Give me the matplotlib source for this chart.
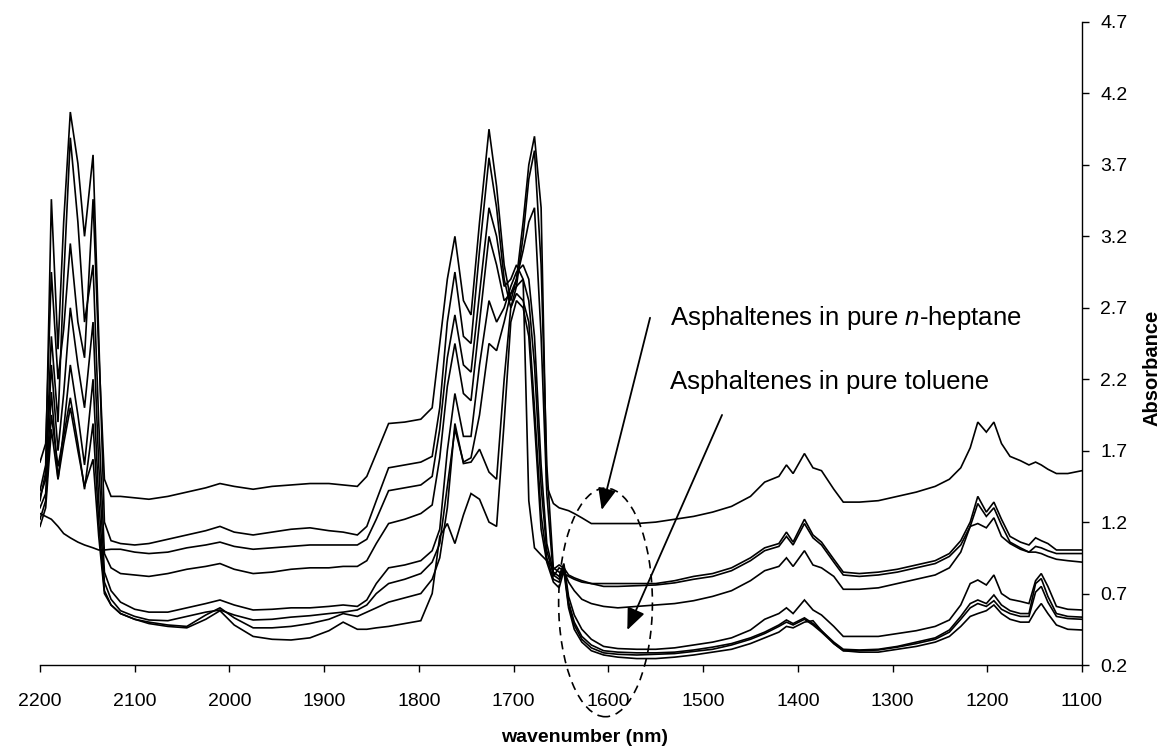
import matplotlib
matplotlib.use("Agg")
import matplotlib.pyplot as plt
from matplotlib.patches import Ellipse

plt.rcParams['font.family'] = ['Liberation Sans', 'DejaVu Sans']
plt.rcParams['mathtext.fontset'] = 'custom'
plt.rcParams['mathtext.rm'] = 'Liberation Sans'
plt.rcParams['mathtext.it'] = 'Liberation Sans:italic'
plt.rcParams['mathtext.bf'] = 'Liberation Sans:bold'

# Shared wavenumber grid (nm) for all spectra
wavenumber = [
    2200, 2194, 2188, 2181, 2175, 2168, 2160, 2153, 2144, 2138,
    2132, 2125, 2115, 2100, 2085, 2065, 2045, 2025, 2010, 1995,
    1975, 1955, 1935, 1915, 1895, 1880, 1865, 1855, 1845, 1832,
    1815, 1798, 1786, 1778, 1770, 1762, 1753, 1745, 1736, 1726,
    1718, 1710, 1703, 1697, 1690, 1684, 1678, 1671, 1665, 1658,
    1652, 1647, 1642, 1636, 1628, 1618, 1605, 1590, 1570, 1550,
    1530, 1510, 1490, 1470, 1450, 1435, 1420, 1412, 1405, 1393,
    1384, 1375, 1362, 1352, 1335, 1315, 1295, 1275, 1255, 1240,
    1228, 1218, 1210, 1201, 1193, 1185, 1176, 1165, 1156, 1149,
    1143, 1136, 1127, 1115, 1100,
]

abs_top = [
    1.62, 1.75, 2.95, 2.20, 2.55, 3.15, 2.60, 2.35, 3.46, 2.40,
    1.50, 1.38, 1.38, 1.37, 1.36, 1.38, 1.41, 1.44, 1.47, 1.45,
    1.43, 1.45, 1.46, 1.47, 1.47, 1.46, 1.45, 1.52, 1.68, 1.89,
    1.90, 1.92, 2.00, 2.45, 2.90, 3.20, 2.75, 2.65, 3.30, 3.95,
    3.55, 3.00, 2.75, 2.90, 3.30, 3.70, 3.90, 3.40, 1.45, 1.33,
    1.30, 1.29, 1.28, 1.26, 1.23, 1.19, 1.19, 1.19, 1.19, 1.20,
    1.22, 1.24, 1.27, 1.31, 1.38, 1.48, 1.52, 1.60, 1.54, 1.68,
    1.58, 1.56, 1.43, 1.34, 1.34, 1.35, 1.38, 1.41, 1.45, 1.50,
    1.58, 1.72, 1.90, 1.83, 1.90, 1.75, 1.66, 1.63, 1.60, 1.62,
    1.60, 1.57, 1.54, 1.54, 1.56,
]

abs_mid1 = [
    1.42, 1.60, 3.46, 2.41, 3.30, 4.07, 3.71, 3.20, 3.77, 2.50,
    1.20, 1.07, 1.05, 1.04, 1.05, 1.08, 1.11, 1.14, 1.17, 1.13,
    1.11, 1.13, 1.15, 1.16, 1.14, 1.13, 1.11, 1.17, 1.35, 1.58,
    1.60, 1.62, 1.66, 2.00, 2.60, 2.95, 2.50, 2.45, 3.10, 3.75,
    3.40, 2.90, 2.70, 2.85, 3.20, 3.60, 3.80, 3.00, 1.60, 0.87,
    0.90, 0.88, 0.83, 0.81, 0.79, 0.77, 0.77, 0.77, 0.77, 0.77,
    0.79, 0.82, 0.84, 0.88, 0.95, 1.02, 1.05, 1.13, 1.06, 1.22,
    1.11, 1.06, 0.94, 0.85, 0.84, 0.85, 0.87, 0.90, 0.93, 0.98,
    1.07, 1.20, 1.38, 1.27, 1.34, 1.22, 1.10, 1.06, 1.04, 1.09,
    1.07, 1.05, 1.005, 1.005, 1.005,
]

abs_mid2 = [
    1.26, 1.24, 1.22, 1.17, 1.12, 1.09, 1.06, 1.04, 1.02, 1.005,
    1.005, 1.01, 1.01, 0.99, 0.98, 0.99, 1.02, 1.04, 1.06, 1.03,
    1.01, 1.02, 1.03, 1.04, 1.04, 1.04, 1.04, 1.08, 1.22, 1.42,
    1.44, 1.46, 1.52, 1.85, 2.35, 2.65, 2.30, 2.25, 2.80, 3.40,
    3.20, 2.85, 2.90, 3.00, 2.90, 1.35, 1.02, 0.97, 0.93, 0.88,
    0.85, 0.84, 0.82, 0.80, 0.78, 0.77, 0.75, 0.75, 0.755, 0.76,
    0.775, 0.80, 0.82, 0.86, 0.93, 1.00, 1.03, 1.10, 1.04, 1.19,
    1.09, 1.04, 0.92, 0.83, 0.82, 0.83, 0.85, 0.88, 0.91, 0.96,
    1.04, 1.17, 1.33, 1.24, 1.30, 1.18, 1.06, 1.02, 0.99, 1.03,
    1.02, 1.00, 0.98, 0.98, 0.98,
]

abs_mid3 = [
    1.35, 1.55, 2.50, 1.90, 2.90, 3.89, 3.30, 2.60, 3.00, 1.90,
    0.98, 0.88, 0.84, 0.83, 0.82, 0.84, 0.87, 0.89, 0.91, 0.87,
    0.84, 0.85, 0.87, 0.88, 0.88, 0.89, 0.89, 0.93, 1.05, 1.19,
    1.22, 1.26, 1.32, 1.65, 2.15, 2.45, 2.10, 2.05, 2.60, 3.20,
    3.00, 2.75, 2.80, 2.90, 3.10, 3.30, 3.40, 2.50, 1.40, 0.82,
    0.88, 0.86, 0.78, 0.72, 0.66, 0.63, 0.61, 0.60, 0.61, 0.62,
    0.63, 0.65, 0.68, 0.72, 0.79, 0.86, 0.89, 0.95, 0.89, 1.00,
    0.90, 0.88, 0.82, 0.73, 0.73, 0.74, 0.77, 0.80, 0.83, 0.88,
    0.99, 1.17, 1.19, 1.16, 1.23, 1.10, 1.05, 1.01, 0.99, 0.99,
    0.98, 0.96, 0.94, 0.93, 0.92,
]

abs_low1 = [
    1.38, 1.50, 2.30, 1.70, 2.10, 2.70, 2.30, 2.00, 2.60, 1.60,
    0.85, 0.72, 0.64, 0.59, 0.57, 0.57, 0.60, 0.63, 0.655, 0.62,
    0.585, 0.59, 0.60, 0.60, 0.61, 0.62, 0.61, 0.655, 0.77, 0.88,
    0.90, 0.93, 1.00, 1.15, 1.70, 2.10, 1.80, 1.80, 2.30, 2.75,
    2.60, 2.70, 2.85, 2.95, 3.00, 2.90, 2.50, 1.60, 1.05, 0.85,
    0.82, 0.91, 0.68, 0.55, 0.45, 0.38, 0.33, 0.315, 0.31, 0.31,
    0.32, 0.34, 0.36, 0.39, 0.445, 0.52, 0.56, 0.60, 0.56, 0.655,
    0.585, 0.55, 0.47, 0.40, 0.40, 0.40, 0.42, 0.44, 0.47, 0.515,
    0.62, 0.77, 0.795, 0.76, 0.83, 0.70, 0.66, 0.645, 0.63, 0.79,
    0.84, 0.75, 0.61, 0.59, 0.585,
]

abs_low2 = [
    1.30, 1.40, 2.11, 1.50, 1.85, 2.30, 1.95, 1.60, 2.20, 1.35,
    0.78, 0.66, 0.58, 0.54, 0.515, 0.51, 0.54, 0.57, 0.585, 0.55,
    0.515, 0.52, 0.535, 0.545, 0.56, 0.57, 0.585, 0.62, 0.70, 0.77,
    0.80, 0.84, 0.92, 1.05, 1.45, 1.85, 1.62, 1.65, 1.95, 2.45,
    2.40, 2.60, 2.80, 2.85, 2.90, 2.75, 2.30, 1.45, 1.00, 0.83,
    0.80, 0.90, 0.64, 0.50, 0.40, 0.34, 0.30, 0.29, 0.285, 0.285,
    0.29, 0.305, 0.325, 0.35, 0.39, 0.43, 0.48, 0.515, 0.49, 0.53,
    0.49, 0.44, 0.36, 0.31, 0.305, 0.31, 0.33, 0.36, 0.39, 0.445,
    0.54, 0.63, 0.655, 0.63, 0.69, 0.62, 0.58, 0.56, 0.56, 0.77,
    0.805, 0.68, 0.56, 0.54, 0.535,
]

abs_low3 = [
    1.22, 1.35, 1.95, 1.59, 1.80, 2.07, 1.75, 1.43, 1.89, 1.20,
    0.72, 0.62, 0.56, 0.52, 0.50, 0.48, 0.47, 0.55, 0.60, 0.53,
    0.46, 0.46, 0.47, 0.49, 0.52, 0.56, 0.54, 0.57, 0.60, 0.64,
    0.67, 0.70, 0.80, 0.95, 1.30, 1.89, 1.61, 1.62, 1.71, 1.55,
    1.50, 2.20, 2.70, 2.80, 2.75, 2.60, 2.00, 1.25, 0.95, 0.80,
    0.78, 0.88, 0.62, 0.48, 0.38, 0.32, 0.285, 0.275, 0.27, 0.275,
    0.28, 0.295, 0.31, 0.34, 0.38, 0.42, 0.47, 0.50, 0.48, 0.52,
    0.48, 0.43, 0.35, 0.30, 0.30, 0.305, 0.325, 0.35, 0.38, 0.43,
    0.52, 0.60, 0.63, 0.61, 0.65, 0.59, 0.56, 0.54, 0.54, 0.71,
    0.75, 0.64, 0.54, 0.525, 0.52,
]

abs_low4 = [
    1.17, 1.30, 1.85, 1.50, 1.75, 2.00, 1.70, 1.45, 1.64, 1.10,
    0.70, 0.62, 0.56, 0.52, 0.49, 0.47, 0.46, 0.52, 0.58, 0.48,
    0.40, 0.38, 0.375, 0.39, 0.44, 0.50, 0.45, 0.45, 0.46, 0.47,
    0.49, 0.51, 0.70, 1.10, 1.19, 1.05, 1.25, 1.40, 1.36, 1.20,
    1.17, 1.90, 2.60, 2.75, 2.70, 2.50, 1.90, 1.15, 0.92, 0.78,
    0.74, 0.86, 0.60, 0.45, 0.36, 0.30, 0.27, 0.255, 0.245, 0.245,
    0.255, 0.27, 0.29, 0.31, 0.35, 0.39, 0.43, 0.47, 0.46, 0.50,
    0.51, 0.44, 0.35, 0.30, 0.29, 0.29, 0.31, 0.33, 0.36, 0.40,
    0.47, 0.54, 0.56, 0.58, 0.62, 0.56, 0.52, 0.50, 0.50, 0.58,
    0.63, 0.56, 0.48, 0.45, 0.445,
]

spectra = [abs_top, abs_mid1, abs_mid2, abs_mid3,
           abs_low1, abs_low2, abs_low3, abs_low4]

x_ticks = list(range(2200, 1099, -100))
y_ticks = [0.2, 0.7, 1.2, 1.7, 2.2, 2.7, 3.2, 3.7, 4.2, 4.7]

label_heptane = "Asphaltenes in pure $\\mathit{n}$-heptane"
label_toluene = "Asphaltenes in pure toluene"

W, H = 1168, 756
fig = plt.figure(figsize=(W / 100, H / 100), dpi=100)
ax = fig.add_axes([40 / W, 1 - 665 / H, 1042 / W, 643 / H])

for spec in spectra:
    ax.plot(wavenumber, spec, color='black', lw=1.2, solid_joinstyle='miter')

ax.set_xlim(2200, 1100)
ax.set_ylim(0.2, 4.7)
ax.set_xticks(x_ticks)
ax.set_xticklabels([str(v) for v in x_ticks])
ax.set_yticks(y_ticks)
ax.set_yticklabels([f"{v:.1f}" for v in y_ticks])

ax.yaxis.tick_right()
ax.yaxis.set_label_position('right')
for side in ('left', 'top'):
    ax.spines[side].set_visible(False)
for side in ('right', 'bottom'):
    ax.spines[side].set_linewidth(1.0)

ax.tick_params(axis='x', direction='out', length=5, width=1.0, pad=15,
               labelsize=14)
ax.tick_params(axis='y', direction='out', length=5, width=1.0, pad=8,
               labelsize=14)

ax.set_xlabel("wavenumber (nm)", fontsize=14, fontweight='bold')
ax.xaxis.set_label_coords(0.523, -0.112)
ax.xaxis.label.set_va('center')
ax.set_ylabel("Absorbance", fontsize=14.5, fontweight='bold', rotation=90)
ax.yaxis.set_label_coords(1.067, 0.462)
ax.yaxis.label.set_va('center')

# Dashed ellipse around the 1600 nm baseline region
ell = Ellipse((1603, 0.638), width=99, height=1.60, fill=False,
              edgecolor='black', lw=1.2, ls=(0, (5, 3.5)), clip_on=False)
ax.add_patch(ell)

arrow_style = dict(arrowstyle='-|>,head_length=0.95,head_width=0.4',
                   color='black', lw=1.3, shrinkA=0, shrinkB=0,
                   mutation_scale=14)
ax.annotate("", xy=(1607, 1.285), xytext=(1556, 2.63), arrowprops=arrow_style)
ax.annotate("", xy=(1580, 0.445), xytext=(1480, 1.95), arrowprops=arrow_style)

ax.text(1535, 2.63, label_heptane, fontsize=18.5, ha='left', va='center')
ax.text(1535, 2.18, label_toluene, fontsize=18.5, ha='left', va='center')

fig.savefig("out.png", dpi=100)
